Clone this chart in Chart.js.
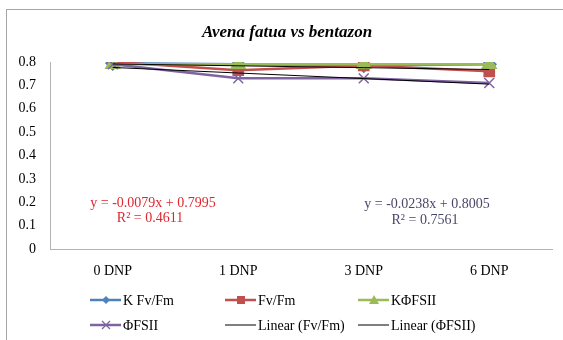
<!DOCTYPE html>
<html>
<head>
<meta charset="utf-8">
<script src="https://cdn.jsdelivr.net/npm/chart.js@4/dist/chart.umd.min.js"></script>
<style>
    html, body { margin: 0; padding: 0; background: #ffffff; }
    #wrap { width: 563px; height: 340px; }
</style>
</head>
<body>
<div id="wrap"><canvas id="chart" width="563" height="340"></canvas></div>
<script>
// Chart data
const categories = ['0 DNP', '1 DNP', '3 DNP', '6 DNP'];
const kFvFm = [0.795, 0.79, 0.785, 0.79];
const fvFm = [0.80, 0.765, 0.785, 0.76];
const kFsii = [0.79, 0.79, 0.79, 0.79];
const fsii = [0.79, 0.73, 0.73, 0.71];
const fvFmTrend = [0.7916, 0.7837, 0.7758, 0.7679];
const fsiiTrend = [0.7767, 0.7529, 0.7291, 0.7053];
const yTicks = ['0', '0.1', '0.2', '0.3', '0.4', '0.5', '0.6', '0.7', '0.8'];

const serif = '"Liberation Serif", "Times New Roman", serif';

// Legend entries, drawn by the plugin below
const legendItems = [
    { text: 'K Fv/Fm', color: '#4F81BD', marker: 'diamond' },
    { text: 'Fv/Fm', color: '#C0504D', marker: 'square' },
    { text: 'K\u03A6FSII', color: '#9BBB59', marker: 'triangle' },
    { text: '\u03A6FSII', color: '#8064A2', marker: 'cross' },
    { text: 'Linear (Fv/Fm)', color: '#000000', marker: null },
    { text: 'Linear (\u03A6FSII)', color: '#000000', marker: null }
];

function drawMarker(ctx, type, x, y, color) {
    ctx.save();
    ctx.fillStyle = color;
    ctx.strokeStyle = color;
    ctx.beginPath();
    if (type === 'diamond') {
        ctx.moveTo(x, y - 4); ctx.lineTo(x + 4, y); ctx.lineTo(x, y + 4); ctx.lineTo(x - 4, y);
        ctx.closePath(); ctx.fill();
    } else if (type === 'square') {
        ctx.fillRect(x - 4, y - 4, 8, 8);
    } else if (type === 'triangle') {
        ctx.moveTo(x, y - 5); ctx.lineTo(x + 5, y + 4); ctx.lineTo(x - 5, y + 4);
        ctx.closePath(); ctx.fill();
    } else if (type === 'cross') {
        ctx.lineWidth = 1.2;
        ctx.moveTo(x - 4, y - 4); ctx.lineTo(x + 4, y + 4);
        ctx.moveTo(x + 4, y - 4); ctx.lineTo(x - 4, y + 4);
        ctx.stroke();
    }
    ctx.restore();
}

const decorPlugin = {
    id: 'decor',
    afterDraw(chart) {
        const ctx = chart.ctx;
        ctx.save();

        // outer frame
        ctx.strokeStyle = '#a6a6a6';
        ctx.lineWidth = 1;
        ctx.strokeRect(6.5, 9.5, 700, 500);

        // title
        ctx.fillStyle = '#000000';
        ctx.font = 'bold italic 17px ' + serif;
        ctx.textAlign = 'center';
        ctx.textBaseline = 'middle';
        ctx.fillText('Avena fatua vs bentazon', 287, 33);

        // trendline equations
        ctx.font = '14px ' + serif;
        ctx.fillStyle = '#E0262F';
        ctx.fillText('y = -0.0079x + 0.7995', 153, 203);
        ctx.fillText('R\u00B2 = 0.4611', 150, 218);
        ctx.fillStyle = '#4A4868';
        ctx.fillText('y = -0.0238x + 0.8005', 427, 204);
        ctx.fillText('R\u00B2 = 0.7561', 425, 220);

        // legend
        ctx.font = '14px ' + serif;
        ctx.textAlign = 'left';
        const colX = [90, 225, 358];
        const rowY = [300, 325];
        legendItems.forEach((item, i) => {
            const x = colX[i % 3];
            const y = rowY[Math.floor(i / 3)];
            ctx.strokeStyle = item.color;
            ctx.lineWidth = item.marker ? 2.5 : 1;
            ctx.beginPath();
            ctx.moveTo(x, y);
            ctx.lineTo(x + 31, y);
            ctx.stroke();
            if (item.marker) {
                drawMarker(ctx, item.marker, x + 16, y, item.color);
            }
            ctx.fillStyle = '#000000';
            ctx.fillText(item.text, x + 33, y + 1);
        });
        ctx.restore();
    }
};

const ctx = document.getElementById('chart').getContext('2d');
const chart = new Chart(ctx, {
    type: 'line',
    data: {
        labels: categories,
        datasets: [
            {
                label: 'K Fv/Fm', data: kFvFm, order: 5,
                borderColor: '#4F81BD', backgroundColor: '#4F81BD', borderWidth: 2.5,
                pointStyle: 'rectRot', pointRadius: 6
            },
            {
                label: 'Fv/Fm', data: fvFm, order: 4,
                borderColor: '#C0504D', backgroundColor: '#C0504D', borderWidth: 2.5,
                pointStyle: 'rect', pointRadius: 6.5
            },
            {
                label: 'K\u03A6FSII', data: kFsii, order: 3,
                borderColor: '#9BBB59', backgroundColor: '#9BBB59', borderWidth: 2.5,
                pointStyle: 'triangle', pointRadius: 7
            },
            {
                label: '\u03A6FSII', data: fsii, order: 2,
                borderColor: '#8064A2', backgroundColor: '#8064A2', borderWidth: 2.5,
                pointStyle: 'crossRot', pointRadius: 7, pointBorderWidth: 1.5
            },
            {
                label: 'Linear (Fv/Fm)', data: fvFmTrend, order: 1,
                borderColor: '#000000', borderWidth: 1, pointRadius: 0
            },
            {
                label: 'Linear (\u03A6FSII)', data: fsiiTrend, order: 0,
                borderColor: '#000000', borderWidth: 1, pointRadius: 0
            }
        ]
    },
    options: {
        responsive: false,
        animation: false,
        layout: { padding: { top: 62, right: 11, left: 0, bottom: 0 } },
        plugins: {
            legend: { display: false },
            title: { display: false },
            tooltip: { enabled: false }
        },
        scales: {
            x: {
                offset: true,
                grid: { display: false, drawTicks: false },
                border: { display: true, color: '#b3b3b3', width: 1 },
                ticks: { color: '#000000', padding: 14, font: { family: serif, size: 14 } },
                afterFit(scale) { scale.height = 91; }
            },
            y: {
                min: 0,
                max: 0.8,
                grid: { display: false, drawTicks: false },
                border: { display: true, color: '#b3b3b3', width: 1 },
                ticks: {
                    stepSize: 0.1,
                    color: '#000000',
                    padding: 14,
                    font: { family: serif, size: 14 },
                    callback: (value, index) => yTicks[index]
                },
                afterFit(scale) { scale.width = 50; }
            }
        }
    },
    plugins: [decorPlugin]
});
</script>
</body>
</html>
